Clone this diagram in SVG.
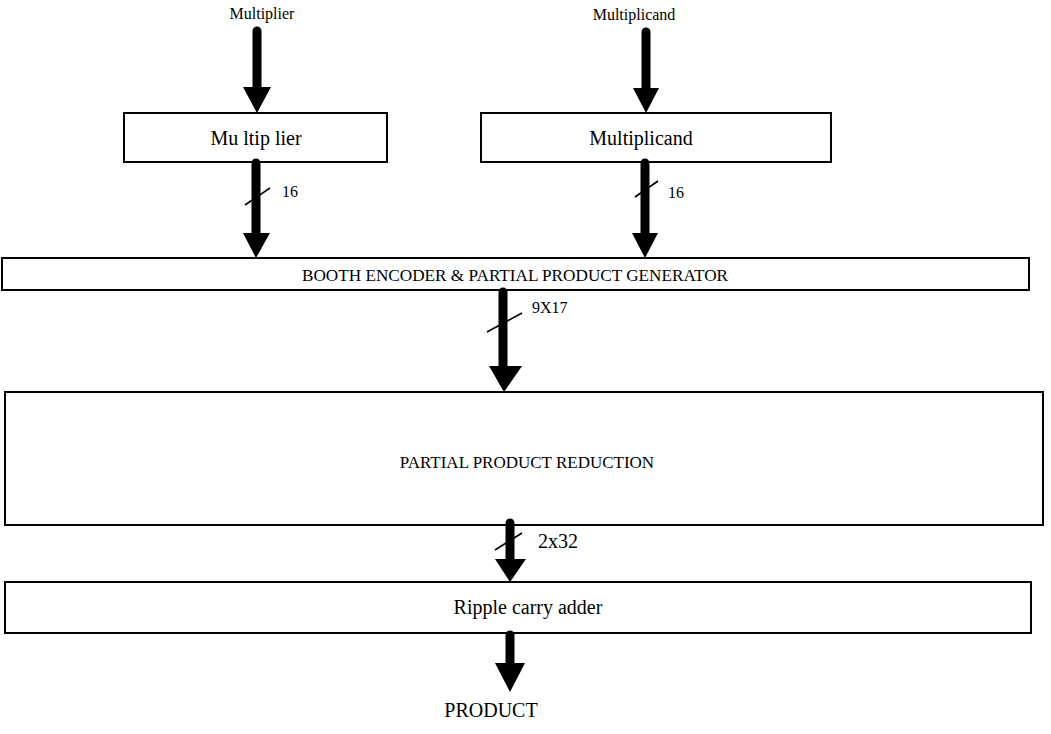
<svg xmlns="http://www.w3.org/2000/svg" width="1051" height="734" viewBox="0 0 1051 734">
  <style>
    .box { fill: #ffffff; stroke: #000000; stroke-width: 2; }
    .shaft { stroke: #000000; stroke-width: 9; stroke-linecap: round; fill: none; }
    .head { fill: #000000; stroke: none; }
    .slash { stroke: #000000; stroke-width: 1.6; fill: none; }
    .t { font-family: "Liberation Serif", "Times New Roman", serif; fill: #000000; }
    .big { font-size: 20px; }
    .mid { font-size: 17px; }
    .small { font-size: 16px; }
  </style>
  <rect width="1051" height="734" fill="#ffffff"/>

  <!-- input labels -->
  <text class="t small" x="262" y="19" text-anchor="middle">Multiplier</text>
  <text class="t small" x="634" y="20" text-anchor="middle">Multiplicand</text>

  <!-- register blocks and datapath stages -->
  <g id="multiplier-reg">
    <rect class="box" x="124" y="113" width="263" height="49"/>
    <text class="t big" x="256" y="145" text-anchor="middle">Mu ltip lier</text>
  </g>
  <g id="multiplicand-reg">
    <rect class="box" x="481" y="113" width="350" height="49"/>
    <text class="t big" x="641" y="145" text-anchor="middle">Multiplicand</text>
  </g>
  <g id="booth-encoder">
    <rect class="box" x="2" y="258" width="1027" height="32"/>
    <text class="t mid" x="515" y="281" text-anchor="middle" textLength="426" lengthAdjust="spacingAndGlyphs">BOOTH ENCODER &amp; PARTIAL PRODUCT GENERATOR</text>
  </g>
  <g id="pp-reduction">
    <rect class="box" x="5" y="392" width="1038" height="133"/>
    <text class="t mid" x="527" y="468" text-anchor="middle">PARTIAL PRODUCT REDUCTION</text>
  </g>
  <g id="ripple-adder">
    <rect class="box" x="5" y="582" width="1026" height="51"/>
    <text class="t big" x="528" y="614" text-anchor="middle">Ripple carry adder</text>
  </g>
  <g id="product-out">
    <text class="t big" x="491" y="717" text-anchor="middle">PRODUCT</text>
  </g>

  <!-- bus connectors with width marks -->
  <g id="connectors">
    <!-- Multiplier input -->
    <line class="shaft" x1="257" y1="31" x2="257" y2="89"/>
    <polygon class="head" points="243,87 271,87 257,113"/>
    <!-- Multiplicand input -->
    <line class="shaft" x1="646" y1="32" x2="646" y2="89"/>
    <polygon class="head" points="633,88 659,88 646,113"/>

    <!-- Multiplier register to encoder -->
    <line class="shaft" x1="256" y1="163" x2="256" y2="234" stroke-linecap="butt"/>
    <polygon class="head" points="243,233 270,233 256,258"/>
    <line class="slash" x1="245" y1="205" x2="270" y2="188"/>
    <text class="t small" x="282" y="197">16</text>

    <!-- Multiplicand register to encoder -->
    <line class="shaft" x1="645" y1="163" x2="645" y2="234" stroke-linecap="butt"/>
    <polygon class="head" points="632,233 658,233 645,258"/>
    <line class="slash" x1="635" y1="197" x2="658" y2="181"/>
    <text class="t small" x="668" y="198">16</text>

    <!-- Encoder to reduction tree -->
    <line class="shaft" x1="503" y1="292" x2="503" y2="367"/>
    <polygon class="head" points="489,366 522,366 504,392"/>
    <line class="slash" x1="487" y1="332" x2="522" y2="313"/>
    <text class="t small" x="532" y="313">9X17</text>

    <!-- Reduction tree to adder -->
    <line class="shaft" x1="510" y1="523" x2="510" y2="560"/>
    <polygon class="head" points="495,559 526,559 510,582"/>
    <line class="slash" x1="495" y1="550" x2="522" y2="533"/>
    <text class="t big" x="538" y="548">2x32</text>

    <!-- Adder to product -->
    <line class="shaft" x1="510" y1="635" x2="510" y2="664"/>
    <polygon class="head" points="495,663 525,663 510,692"/>
  </g>
</svg>
